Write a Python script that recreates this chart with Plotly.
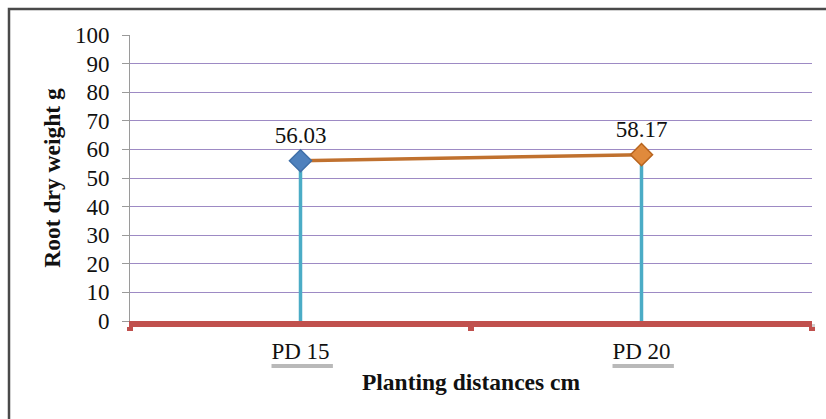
import plotly.graph_objects as go

# Root dry weight by planting distance
categories = ["PD 15", "PD 20"]
values = [56.03, 58.17]
marker_colors = ["#4f81bd", "#e08a3c"]
y_ticks = [0, 10, 20, 30, 40, 50, 60, 70, 80, 90, 100]

W, H = 826, 419
L, R, T, B = 130, 14, 35, 98
pw, ph = W - L - R, H - T - B
FONT = "Liberation Serif"


def px_x(x):
    return (x - L) / pw


def px_y(y):
    return (H - B - y) / ph


fig = go.Figure()

# vertical drop lines from the axis up to each value
drop_x, drop_y = [], []
for c, v in zip(categories, values):
    drop_x += [c, c, None]
    drop_y += [0, v, None]
fig.add_trace(go.Scatter(
    x=drop_x, y=drop_y, mode="lines",
    line=dict(color="#4bacc6", width=3.5),
    hoverinfo="skip", showlegend=False,
))

# connecting line
fig.add_trace(go.Scatter(
    x=categories, y=values, mode="lines",
    line=dict(color="#c0712f", width=3.5),
    showlegend=False,
))

# markers with value labels
fig.add_trace(go.Scatter(
    x=categories, y=values, mode="markers+text",
    marker=dict(symbol="diamond", size=17, color=marker_colors,
                line=dict(color=["#3f6fa8", "#b8651f"], width=1.5)),
    text=[f"{v:.2f}" for v in values],
    textposition="top center",
    textfont=dict(family=FONT, size=23, color="#111111"),
    showlegend=False,
))

shapes = []
# outer frame (left and top edges visible)
shapes.append(dict(type="rect", xref="paper", yref="paper",
                   x0=px_x(9), x1=px_x(W + 20), y0=px_y(H + 20), y1=px_y(9),
                   line=dict(color="#4a4a4a", width=2.5), layer="below"))
# soft shadows beneath the category labels
for i, c in enumerate(categories):
    shapes.append(dict(type="rect", xref="x", yref="paper",
                       x0=i - 0.085, x1=i + 0.095,
                       y0=px_y(368), y1=px_y(364),
                       fillcolor="rgba(80,80,80,0.4)", line=dict(width=0),
                       layer="below"))
# shadow beneath the red axis line
shapes.append(dict(type="rect", xref="paper", yref="paper",
                   x0=px_x(131), x1=px_x(815), y0=px_y(327), y1=px_y(324),
                   fillcolor="rgba(120,120,120,0.35)", line=dict(width=0),
                   layer="below"))

fig.update_layout(
    width=W, height=H,
    margin=dict(l=L, r=R, t=T, b=B),
    paper_bgcolor="white",
    plot_bgcolor="rgba(0,0,0,0)",
    font=dict(family=FONT, size=23, color="#111111"),
    shapes=shapes,
    xaxis=dict(
        type="category",
        categoryorder="array", categoryarray=categories,
        range=[-0.5, 1.5],
        showgrid=False, zeroline=False,
        showline=True, linecolor="#c0504d", linewidth=6,
        ticks="outside", tickson="boundaries",
        tickcolor="#c0504d", tickwidth=6, ticklen=4,
        tickfont=dict(family=FONT, size=23, color="#111111"),
        ticklabelstandoff=4,
        title=dict(text="<b>Planting distances cm</b>",
                   font=dict(family=FONT, size=23.5, color="#111111"),
                   standoff=13),
    ),
    yaxis=dict(
        range=[0, 100],
        tickvals=y_ticks,
        showgrid=True, gridcolor="#9d8ac4", gridwidth=1,
        zeroline=False,
        showline=True, linecolor="#9a9a9a", linewidth=1,
        ticks="outside", ticklen=7, tickcolor="#9a9a9a",
        tickfont=dict(family=FONT, size=23, color="#111111"),
        ticklabelstandoff=8,
        title=dict(text="<b>Root dry weight g</b>",
                   font=dict(family=FONT, size=23.5, color="#111111"),
                   standoff=7),
    ),
)

fig.write_html("out.html")
